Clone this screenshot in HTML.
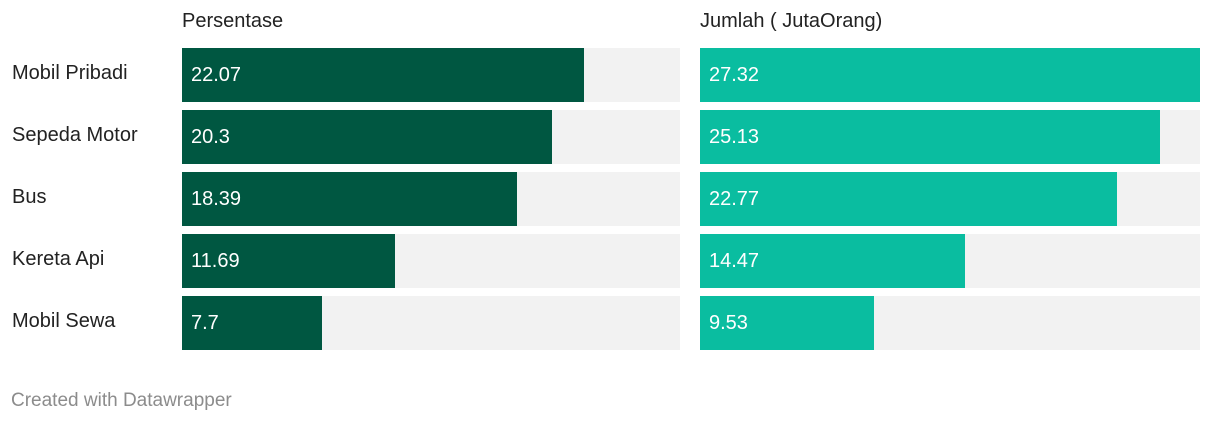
<!DOCTYPE html>
<html><head><meta charset="utf-8"><style>
body{margin:0;width:1220px;height:426px;background:#fff;font-family:"Liberation Sans",sans-serif;position:relative;overflow:hidden}
.abs{position:absolute}
.hdr{font-size:20px;color:#222;top:10px}
.lbl{font-size:20px;color:#222;left:12px}
.bg{background:#f2f2f2;height:54px}
.bar{height:54px}
.val{color:#fff;font-size:20px;line-height:54px;padding-left:9px;white-space:nowrap}
.foot{left:11px;top:390px;font-size:19px;color:#8c8c8c}
</style></head><body>
<div class="abs hdr" style="left:182px">Persentase</div>
<div class="abs hdr" style="left:700px">Jumlah ( JutaOrang)</div>
<div id="chart"></div>
<div class="abs foot">Created with Datawrapper</div>
<script>
const categories=["Mobil Pribadi","Sepeda Motor","Bus","Kereta Api","Mobil Sewa"];
const persentase=[22.07,20.3,18.39,11.69,7.7];
const jumlah=[27.32,25.13,22.77,14.47,9.53];
const labelsP=["22.07","20.3","18.39","11.69","7.7"];
const labelsJ=["27.32","25.13","22.77","14.47","9.53"];
const maxV=Math.max(...persentase,...jumlah);
const chart=document.getElementById('chart');
const cols=[{x:182,w:498,vals:persentase,labs:labelsP,c:'#005741',n:'persentase'},{x:700,w:500,vals:jumlah,labs:labelsJ,c:'#0abda0',n:'jumlah'}];
categories.forEach((cat,i)=>{
  const y=48+i*62;
  const l=document.createElement('div');
  l.className='abs lbl';l.style.top=(y+14)+'px';l.textContent=cat;
  
  
  chart.appendChild(l);
  cols.forEach(col=>{
    const bg=document.createElement('div');
    bg.className='abs bg';bg.style.left=col.x+'px';bg.style.top=y+'px';bg.style.width=col.w+'px';
    
    
    chart.appendChild(bg);
    const b=document.createElement('div');
    b.className='abs bar';b.style.left=col.x+'px';b.style.top=y+'px';
    b.style.width=(col.vals[i]/maxV*col.w)+'px';b.style.background=col.c;
    
    
    chart.appendChild(b);
    const v=document.createElement('div');
    v.className='abs val';v.style.left=col.x+'px';v.style.top=y+'px';v.textContent=col.labs[i];
    
    
    chart.appendChild(v);
  });
});
</script>
</body></html>
